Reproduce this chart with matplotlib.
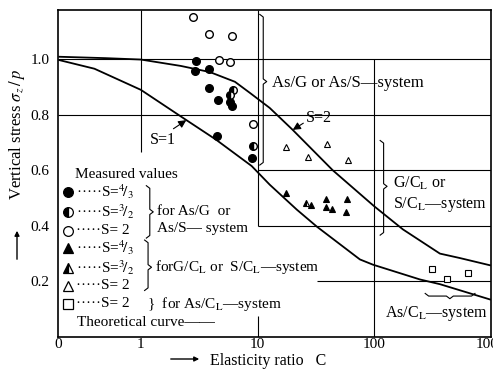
import numpy as np
import matplotlib
matplotlib.use("Agg")
import matplotlib.pyplot as plt

# --- 폰트 설정 ---
plt.rcParams['font.family'] = ['Liberation Serif', 'DejaVu Serif']
plt.rcParams['mathtext.fontset'] = 'stix'

# --- 데이터 ---
# 이론 곡선 S=2 (위쪽)
curve_s2_c = [0.2, 0.5, 1, 2.2, 3.9, 6.4, 8.6, 12.7, 20, 44, 100, 176, 365, 541, 980]
curve_s2_v = [1.008, 1.003, 0.998, 0.975, 0.953, 0.918, 0.878, 0.824, 0.745, 0.60, 0.47, 0.387, 0.30, 0.284, 0.258]
# 이론 곡선 S=1 (아래쪽)
curve_s1_c = [0.2, 0.4, 1, 2.3, 4.4, 8.9, 12.7, 21.7, 32.2, 75.3, 97.6, 246, 365, 981]
curve_s1_v = [0.996, 0.965, 0.889, 0.788, 0.71, 0.615, 0.548, 0.458, 0.397, 0.279, 0.26, 0.207, 0.19, 0.135]

# As/G, As/S 계 측정값 (원)
circ43_c = [2.96, 2.90, 3.83, 3.83, 4.57, 5.79, 6.02, 4.48, 8.93]
circ43_v = [0.993, 0.957, 0.964, 0.896, 0.853, 0.846, 0.831, 0.724, 0.645]
circ32_c = [6.14, 5.79, 9.11]
circ32_v = [0.889, 0.871, 0.688]
circ2_c = [2.79, 3.83, 6.02, 4.66, 5.79, 9.11]
circ2_v = [1.151, 1.090, 1.082, 0.996, 0.989, 0.767]

# G/CL, S/CL 계 측정값 (삼각형)
tri43_c = [17.5, 28.6, 38.5, 58.2, 38.5, 43.3, 57.1]
tri43_v = [0.519, 0.476, 0.498, 0.498, 0.469, 0.462, 0.451]
tri32_c = [25.9]
tri32_v = [0.483]
tri2_c = [17.5, 39.3, 27.0, 59.4]
tri2_v = [0.684, 0.695, 0.648, 0.638]

# As/CL 계 측정값 (사각형)
sq2_c = [312, 419, 634]
sq2_v = [0.243, 0.207, 0.232]

x_ticks = [0.195, 1, 10, 100, 1000]
x_tick_labels = ['0', '1', '10', '100', '1000']
y_ticks = [0.2, 0.4, 0.6, 0.8, 1.0]
y_tick_labels = ['0.2', '0.4', '0.6', '0.8', '1.0']

# --- 차트 ---
fig = plt.figure(figsize=(4.93, 3.72), dpi=100)
ax = fig.add_axes([58 / 493, 1 - 337 / 372, 433 / 493, 327.5 / 372])
ax.set_xscale('log')
ax.set_xlim(0.195, 1000)
ax.set_ylim(0, 1.178)

# 격자선 (부분적으로만 그려짐)
gk = dict(color='black', lw=0.8, zorder=1)
ax.hlines([1.0, 0.8], 0.195, 1000, **gk)
ax.hlines([0.6, 0.4], 10, 1000, **gk)
ax.hlines(0.2, 32, 1000, **gk)
ax.vlines(1, 0.665, 1.178, **gk)
ax.vlines(10, 0.4, 1.178, **gk)
ax.vlines(10, 0, 0.075, **gk)
ax.vlines(100, 0, 1.0, **gk)

ax.plot(curve_s2_c, curve_s2_v, color='black', lw=1.3, zorder=2)
ax.plot(curve_s1_c, curve_s1_v, color='black', lw=1.3, zorder=2)

mk = dict(ls='none', color='black', mec='black', zorder=3, clip_on=False)
ax.plot(circ43_c, circ43_v, 'o', ms=5.5, mew=1.0, **mk)
ax.plot(circ32_c, circ32_v, 'o', ms=5.5, mew=1.0, fillstyle='left', mfc='black', markerfacecoloralt='white', **mk)
ax.plot(circ2_c, circ2_v, 'o', ms=5.5, mew=1.0, mfc='white', **mk)
ax.plot(tri43_c, tri43_v, '^', ms=5, mew=0.8, **mk)
ax.plot(tri32_c, tri32_v, '^', ms=5, mew=0.8, fillstyle='left', mfc='black', markerfacecoloralt='white', **mk)
ax.plot(tri2_c, tri2_v, '^', ms=5, mew=0.8, mfc='white', **mk)
ax.plot(sq2_c, sq2_v, 's', ms=4.5, mew=0.8, mfc='white', **mk)

ax.set_xticks(x_ticks)
ax.set_xticklabels(x_tick_labels)
ax.set_yticks(y_ticks)
ax.set_yticklabels(y_tick_labels)
ax.minorticks_off()
ax.tick_params(length=0, labelsize=11)
ax.tick_params(axis='x', pad=1)
ax.tick_params(axis='y', pad=6)
for s in ax.spines.values():
    s.set_linewidth(1.2)


def brace(x0, y0, x1, y1, tip, vertical=True, d=0.008):
    """축 좌표계에서 중괄호 모양을 그리는 함수"""
    if vertical:
        xs = [x0 - d, x0, x0, x0 + d, x0, x0, x0 - d]
        ys = [y0, y0 - d, tip + d, tip, tip - d, y1 + d, y1]
    else:
        xs = [x0, x0 + d, tip - d, tip, tip + d, x1 - d, x1]
        ys = [y0 + d, y0, y0, y0 - d, y0, y0, y0 + d]
    ax.plot(xs, ys, color='black', lw=0.8, transform=ax.transAxes, clip_on=False)


# 곡선 라벨
ax.annotate('S=1', xy=(2.45, 0.78), xytext=(0.212, 0.603), textcoords='axes fraction',
            fontsize=11.5, va='center',
            arrowprops=dict(arrowstyle='-|>', lw=0.8, color='black', shrinkA=0, shrinkB=0,
                            relpos=(0.75, 1.0)))
ax.annotate('S=2', xy=(20, 0.745), xytext=(0.573, 0.668), textcoords='axes fraction',
            fontsize=11.5, va='center',
            arrowprops=dict(arrowstyle='-|>', lw=0.8, color='black', shrinkA=0, shrinkB=0,
                            relpos=(0.0, 0.3)))

# 계 구분 괄호와 텍스트
brace(0.474, 0.985, 0.474, 0.525, 0.78)
ax.text(0.494, 0.776, 'As/G or As/S\u2014system', transform=ax.transAxes, fontsize=12, va='center')
brace(0.752, 0.60, 0.752, 0.311, 0.46)
ax.text(0.773, 0.468, 'G/C$_{\\rm L}$ or', transform=ax.transAxes, fontsize=11.5, va='center')
ax.text(0.773, 0.405, 'S/C$_{\\rm L}$\u2014system', transform=ax.transAxes, fontsize=11.5, va='center')
brace(0.848, 0.125, 0.963, 0.125, 0.905, vertical=False)
ax.text(0.755, 0.072, 'As/C$_{\\rm L}$\u2014system', transform=ax.transAxes, fontsize=11.5, va='center')

# --- 범례 (수동 배치) ---
ax.text(0.039, 0.495, 'Measured values', transform=ax.transAxes, fontsize=11, va='center')
rows_y = [0.443, 0.382, 0.324, 0.272, 0.211, 0.156, 0.101]
row_labels = ['S=$^4\\!/_3$', 'S=$^3\\!/_2$', 'S= 2', 'S=$^4\\!/_3$', 'S=$^3\\!/_2$', 'S= 2', 'S= 2']
row_markers = [('o', 'full', 'black'), ('o', 'left', 'black'), ('o', 'full', 'white'),
               ('^', 'full', 'black'), ('^', 'left', 'black'), ('^', 'full', 'white'),
               ('s', 'full', 'white')]
for ry, lab, (m, fs, fc) in zip(rows_y, row_labels, row_markers):
    ax.plot([0.024], [ry], m, ms=7 if m == 'o' else 6.5, mec='black', mfc=fc, fillstyle=fs,
            markerfacecoloralt='white', mew=0.9, transform=ax.transAxes, clip_on=False)
    ax.text(0.042, ry, '\u00b7\u00b7\u00b7\u00b7\u00b7' + lab, transform=ax.transAxes, fontsize=11, va='center')

brace(0.212, 0.462, 0.212, 0.302, 0.382)
ax.text(0.228, 0.382, 'for As/G  or', transform=ax.transAxes, fontsize=11, va='center')
ax.text(0.228, 0.330, 'As/S\u2014 system', transform=ax.transAxes, fontsize=11, va='center')
brace(0.208, 0.296, 0.208, 0.142, 0.213)
ax.text(0.224, 0.213, 'forG/C$_{\\rm L}$ or  S/C$_{\\rm L}$\u2014system', transform=ax.transAxes, fontsize=11, va='center')
ax.text(0.205, 0.101, '}  for As/C$_{\\rm L}$\u2014system', transform=ax.transAxes, fontsize=11, va='center')
ax.text(0.044, 0.043, 'Theoretical curve\u2014\u2014', transform=ax.transAxes, fontsize=11, va='center')

# --- 축 제목 ---
fig.text(17 / 493, 1 - 135 / 372, 'Vertical stress $\\sigma_z\\,/\\,p$', rotation=90,
         fontsize=12, ha='center', va='center')
fig.patches.append(matplotlib.patches.FancyArrowPatch(
    (17 / 493, 1 - 262 / 372), (17 / 493, 1 - 228 / 372), transform=fig.transFigure,
    arrowstyle='-|>', mutation_scale=7, lw=1.0, color='black'))
fig.text(210 / 493, 1 - 361 / 372, 'Elasticity ratio   C', fontsize=11.5, ha='left', va='center')
fig.patches.append(matplotlib.patches.FancyArrowPatch(
    (168 / 493, 1 - 359 / 372), (202 / 493, 1 - 359 / 372), transform=fig.transFigure,
    arrowstyle='-|>', mutation_scale=7, lw=1.0, color='black'))

fig.savefig('out.png', dpi=100)
